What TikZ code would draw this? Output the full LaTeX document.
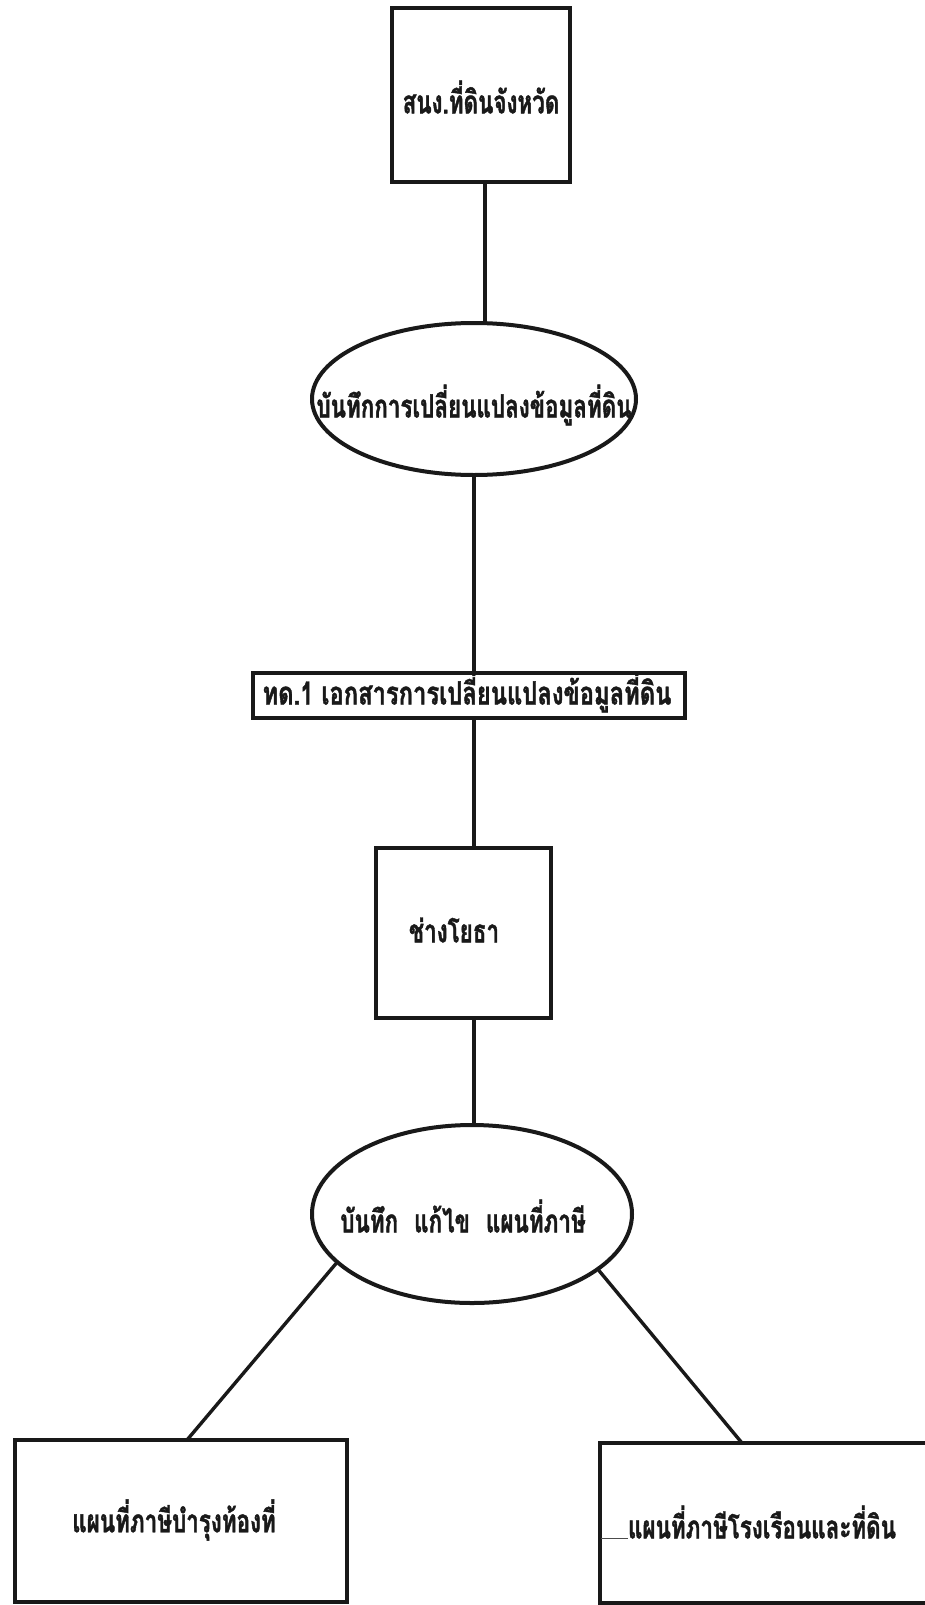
\documentclass[tikz,border=0pt]{standalone}
\usepackage{fontspec}
\usetikzlibrary{shapes.geometric}
\newfontfamily\thaifont[Script=Thai,FakeStretch=0.7,BoldFeatures={FakeBold=1.2}]{Loma}
\begin{document}
\begin{tikzpicture}[x=0.5pt,y=-0.5pt,
  frame/.style={draw=black!90,line width=2pt,inner sep=0pt},
  boxnode/.style={frame,rectangle},
  ovalnode/.style={frame,ellipse},
  link/.style={draw=black!90,line width=1.7pt},
  label/.style={inner sep=0pt,text=black!90,font=\thaifont\bfseries\fontsize{16}{19}\selectfont}]
\fill[white] (0,0) rectangle (925,1605);
\useasboundingbox (0,0) rectangle (925,1605);
\clip (0,0) rectangle (925,1605);

% shapes
\node[boxnode,minimum width=89pt,minimum height=87pt] (top) at (481,95) {};
\node[ovalnode,minimum width=162pt,minimum height=76pt] (e1) at (474,399) {};
\node[boxnode,minimum width=216pt,minimum height=22.5pt] (doc) at (469,695.5) {};
\node[boxnode,minimum width=87.5pt,minimum height=85pt] (work) at (463.5,933) {};
\node[ovalnode,minimum width=160pt,minimum height=89pt] (e2) at (472,1214) {};
\node[boxnode,minimum width=166pt,minimum height=81pt] (lb) at (181,1521) {};
\node[boxnode,minimum width=180pt,minimum height=80pt] (rb) at (780,1523) {};

% labels
\node[label] (ttop) at (481,97) {สนง.ที่ดินจังหวัด};
\node[label] (te1) at (474,405) {บันทึกการเปลี่ยนแปลงข้อมูลที่ดิน};
\node[label] (tdoc) at (467,692) {\scalebox{1.06}[1]{ทด.1 เอกสารการเปลี่ยนแปลงข้อมูลที่ดิน}};
\node[label] (twork) at (454,930) {ช่างโยธา};
\node[label] (te2) at (463,1216) {บันทึก\enspace แก้ไข\enspace แผนที่ภาษี};
\node[label] (tlb) at (174,1520) {แผนที่ภาษีบำรุงท้องที่};
\node[label] (trb) at (762,1522) {แผนที่ภาษีโรงเรือนและที่ดิน};

% connectors
\coordinate (c1) at (485,0);
\coordinate (c3) at (474,0);
\coordinate (lbt) at (187,1440);
\coordinate (rbt) at (742,1443);
\draw[link] (c1 |- top.south) -- (c1 |- e1.north);
\draw[link] (e1.south) -- (e1.south |- doc.north);
\draw[link] (c3 |- doc.south) -- (c3 |- work.north);
\draw[link] (c3 |- work.south) -- (c3 |- e2.north);
\draw[link] (e2.200.8) -- (lbt);
\draw[link] (e2.336.9) -- (rbt);

% short stroke before the right-hand label
\draw[black!70,line width=0.4pt] (rb.west |- trb.base) ++(3,0) -- (trb.base west);
\end{tikzpicture}
\end{document}
